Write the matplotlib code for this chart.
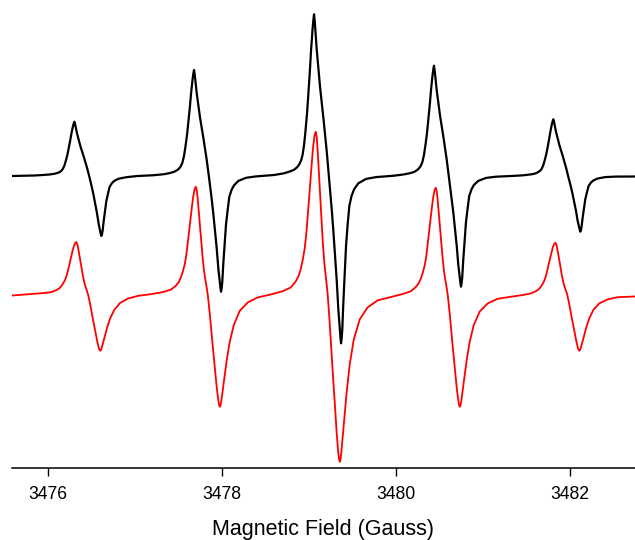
import matplotlib
matplotlib.use("Agg")
import matplotlib.pyplot as plt

plt.rcParams['font.family'] = ['Liberation Sans', 'DejaVu Sans']

# ---------------- Experimental spectrum (black) ----------------
# magnetic field (Gauss)
black_field = [
    # line 1
    3475.591, 3475.848, 3475.963, 3476.031, 3476.077, 3476.112, 3476.135, 3476.158, 3476.175, 3476.192,
    3476.209, 3476.227, 3476.242, 3476.258, 3476.273, 3476.290, 3476.300, 3476.307, 3476.316, 3476.338,
    3476.376, 3476.414, 3476.453, 3476.477, 3476.510, 3476.529, 3476.548, 3476.568, 3476.586, 3476.602,
    3476.611, 3476.617, 3476.624, 3476.631, 3476.643, 3476.660, 3476.674, 3476.692, 3476.712, 3476.738,
    3476.766, 3476.816, 3476.904, 3477.019,
    # line 2
    3477.222, 3477.337, 3477.406, 3477.452, 3477.486, 3477.509, 3477.532, 3477.549, 3477.566, 3477.583,
    3477.601, 3477.616, 3477.632, 3477.647, 3477.664, 3477.674, 3477.681, 3477.690, 3477.712, 3477.750,
    3477.788, 3477.827, 3477.851, 3477.884, 3477.903, 3477.922, 3477.942, 3477.960, 3477.976, 3477.985,
    3477.991, 3477.998, 3478.005, 3478.017, 3478.034, 3478.048, 3478.066, 3478.086, 3478.112, 3478.140,
    3478.190, 3478.278, 3478.393,
    # line 3
    3478.600, 3478.715, 3478.783, 3478.829, 3478.864, 3478.887, 3478.910, 3478.927, 3478.944, 3478.961,
    3478.979, 3478.994, 3479.010, 3479.025, 3479.042, 3479.052, 3479.059, 3479.068, 3479.090, 3479.128,
    3479.166, 3479.205, 3479.229, 3479.262, 3479.281, 3479.300, 3479.320, 3479.338, 3479.354, 3479.363,
    3479.369, 3479.376, 3479.383, 3479.395, 3479.411, 3479.426, 3479.443, 3479.464, 3479.489, 3479.518,
    3479.567, 3479.656, 3479.771,
    # line 4
    3479.977, 3480.092, 3480.161, 3480.206, 3480.241, 3480.264, 3480.287, 3480.304, 3480.321, 3480.338,
    3480.356, 3480.371, 3480.387, 3480.402, 3480.419, 3480.429, 3480.436, 3480.445, 3480.467, 3480.505,
    3480.543, 3480.582, 3480.606, 3480.639, 3480.658, 3480.677, 3480.697, 3480.715, 3480.731, 3480.740,
    3480.746, 3480.753, 3480.760, 3480.772, 3480.789, 3480.803, 3480.821, 3480.841, 3480.867, 3480.895,
    3480.945, 3481.033, 3481.148,
    # line 5
    3481.347, 3481.462, 3481.530, 3481.576, 3481.611, 3481.634, 3481.657, 3481.674, 3481.691, 3481.708,
    3481.726, 3481.741, 3481.757, 3481.772, 3481.789, 3481.799, 3481.806, 3481.815, 3481.837, 3481.875,
    3481.913, 3481.952, 3481.976, 3482.009, 3482.028, 3482.047, 3482.067, 3482.085, 3482.101, 3482.110,
    3482.116, 3482.123, 3482.130, 3482.142, 3482.159, 3482.173, 3482.191, 3482.211, 3482.237, 3482.265,
    3482.315, 3482.403, 3482.518, 3482.744,
]
# first-derivative EPR signal (arbitrary units)
black_signal = [
    # line 1
    0.0, 0.5, 1.1, 1.6, 2.2, 3.0, 3.8, 5.2, 7.1, 10.3,
    15.2, 21.2, 27.7, 34.8, 42.4, 49.4, 52.7, 54.3, 51.6, 42.4,
    29.9, 19.5, 8.1, 0.0, -12.0, -19.8, -28.8, -37.8, -48.0, -54.6,
    -58.2, -60.0, -58.2, -55.2, -45.6, -34.8, -25.2, -18.0, -10.8, -7.2,
    -4.8, -2.7, -1.2, -0.1,
    # line 2
    0.8, 1.8, 3.0, 4.2, 5.8, 7.4, 10.1, 13.8, 20.1, 29.7,
    41.3, 54.1, 67.8, 82.7, 96.5, 102.8, 106.0, 100.7, 82.7, 58.3,
    38.2, 15.9, 0.0, -23.1, -38.2, -55.5, -72.9, -92.6, -105.3, -112.2,
    -115.7, -112.2, -106.4, -87.9, -67.1, -48.6, -34.7, -20.8, -13.9, -9.3,
    -4.9, -1.8, -0.4,
    # line 3
    1.0, 2.7, 4.6, 6.2, 8.7, 11.3, 15.4, 21.0, 30.7, 45.3,
    63.1, 82.5, 103.5, 126.1, 147.1, 156.8, 161.7, 153.6, 126.1, 88.9,
    58.2, 24.3, 0.0, -33.5, -55.2, -80.3, -105.4, -133.8, -152.2, -162.3,
    -167.3, -162.3, -153.9, -127.1, -97.0, -70.3, -50.2, -30.1, -20.1, -13.4,
    -7.3, -2.9, -1.1,
    # line 4
    0.3, 1.6, 2.8, 4.0, 5.8, 7.7, 10.5, 14.3, 21.0, 30.9,
    43.0, 56.3, 70.6, 86.0, 100.4, 107.0, 110.3, 104.8, 86.0, 60.7,
    39.7, 16.5, 0.0, -22.1, -36.5, -53.1, -69.7, -88.6, -100.7, -107.4,
    -110.7, -107.4, -101.8, -84.1, -64.2, -46.5, -33.2, -19.9, -13.3, -8.9,
    -4.9, -1.9, -0.7,
    # line 5
    0.1, 0.7, 1.4, 2.0, 2.9, 4.0, 5.4, 7.4, 10.8, 15.9,
    22.1, 28.9, 36.3, 44.2, 51.6, 55.0, 56.7, 53.9, 44.2, 31.2,
    20.4, 8.5, 0.0, -11.1, -18.4, -26.7, -35.1, -44.6, -50.7, -54.0,
    -55.7, -54.0, -51.2, -42.3, -32.3, -23.4, -16.7, -10.0, -6.7, -4.5,
    -2.5, -1.1, -0.6, -0.5,
]

# ---------------- Simulated spectrum (red) ----------------
red_field = [
    # line 1
    3475.591, 3475.811, 3475.949, 3476.041, 3476.098, 3476.133, 3476.156, 3476.179, 3476.202, 3476.219,
    3476.236, 3476.253, 3476.271, 3476.286, 3476.299, 3476.314, 3476.328, 3476.340, 3476.351, 3476.362,
    3476.374, 3476.385, 3476.397, 3476.408, 3476.420, 3476.431, 3476.443, 3476.454, 3476.466, 3476.477,
    3476.489, 3476.506, 3476.523, 3476.546, 3476.569, 3476.586, 3476.595, 3476.604, 3476.613, 3476.621,
    3476.638, 3476.661, 3476.684, 3476.718, 3476.764, 3476.833, 3476.925, 3477.040,
    # line 2
    3477.184, 3477.322, 3477.414, 3477.471, 3477.506, 3477.529, 3477.552, 3477.575, 3477.592, 3477.609,
    3477.626, 3477.644, 3477.659, 3477.672, 3477.687, 3477.701, 3477.713, 3477.724, 3477.735, 3477.747,
    3477.758, 3477.770, 3477.781, 3477.793, 3477.804, 3477.816, 3477.827, 3477.839, 3477.850, 3477.862,
    3477.879, 3477.896, 3477.919, 3477.942, 3477.959, 3477.969, 3477.977, 3477.986, 3477.994, 3478.011,
    3478.034, 3478.057, 3478.091, 3478.137, 3478.206, 3478.298, 3478.413,
    # line 3
    3478.561, 3478.699, 3478.791, 3478.848, 3478.883, 3478.906, 3478.929, 3478.952, 3478.969, 3478.986,
    3479.003, 3479.021, 3479.036, 3479.049, 3479.064, 3479.078, 3479.090, 3479.101, 3479.112, 3479.124,
    3479.135, 3479.147, 3479.158, 3479.170, 3479.181, 3479.193, 3479.204, 3479.216, 3479.227, 3479.239,
    3479.256, 3479.273, 3479.296, 3479.319, 3479.336, 3479.346, 3479.354, 3479.363, 3479.371, 3479.388,
    3479.411, 3479.434, 3479.468, 3479.514, 3479.583, 3479.675, 3479.790,
    # line 4
    3479.939, 3480.077, 3480.169, 3480.226, 3480.261, 3480.284, 3480.307, 3480.330, 3480.347, 3480.364,
    3480.381, 3480.399, 3480.414, 3480.427, 3480.442, 3480.456, 3480.468, 3480.479, 3480.490, 3480.502,
    3480.513, 3480.525, 3480.536, 3480.548, 3480.559, 3480.571, 3480.582, 3480.594, 3480.605, 3480.617,
    3480.634, 3480.651, 3480.674, 3480.697, 3480.714, 3480.724, 3480.732, 3480.741, 3480.749, 3480.766,
    3480.789, 3480.812, 3480.846, 3480.892, 3480.961, 3481.053, 3481.168,
    # line 5
    3481.312, 3481.450, 3481.542, 3481.599, 3481.634, 3481.657, 3481.680, 3481.703, 3481.720, 3481.737,
    3481.754, 3481.772, 3481.787, 3481.800, 3481.815, 3481.829, 3481.841, 3481.852, 3481.863, 3481.875,
    3481.886, 3481.898, 3481.909, 3481.921, 3481.932, 3481.944, 3481.955, 3481.967, 3481.978, 3481.990,
    3482.007, 3482.024, 3482.047, 3482.070, 3482.087, 3482.096, 3482.105, 3482.114, 3482.122, 3482.139,
    3482.162, 3482.185, 3482.219, 3482.265, 3482.334, 3482.426, 3482.541, 3482.744,
]
red_signal = [
    # line 1
    -0.5, 1.0, 1.9, 2.9, 4.8, 6.6, 8.7, 11.7, 15.4, 19.6,
    25.4, 31.8, 38.2, 44.0, 48.2, 51.7, 53.0, 51.1, 46.6, 41.3,
    35.0, 29.2, 23.3, 17.8, 13.0, 9.3, 6.4, 3.4, 0.0, -4.5,
    -9.5, -17.8, -25.6, -35.6, -46.2, -52.4, -54.9, -55.7, -54.9, -52.9,
    -47.3, -40.1, -32.3, -23.4, -15.0, -7.8, -3.5, -0.8,
    # line 2
    0.8, 2.9, 5.3, 9.1, 13.0, 17.4, 23.4, 31.0, 40.1, 52.0,
    65.0, 78.0, 89.9, 98.6, 105.6, 108.3, 104.5, 95.3, 84.5, 71.5,
    59.6, 47.7, 36.3, 26.5, 19.0, 13.0, 7.0, 0.0, -8.9, -19.0,
    -35.7, -51.4, -71.5, -92.7, -105.0, -110.0, -111.7, -110.0, -106.1, -94.9,
    -80.4, -64.8, -46.9, -30.2, -15.8, -7.4, -2.4,
    # line 3
    0.5, 3.8, 7.5, 13.5, 19.3, 25.9, 35.0, 46.6, 60.4, 78.4,
    98.0, 117.6, 135.5, 148.6, 159.2, 163.3, 157.6, 143.7, 127.4, 107.8,
    89.8, 71.9, 54.7, 40.0, 28.6, 19.6, 10.6, 0.0, -13.3, -28.3,
    -53.3, -76.7, -106.7, -138.4, -156.7, -164.2, -166.7, -164.2, -158.4, -141.7,
    -120.0, -96.7, -70.0, -45.0, -24.4, -12.3, -5.3,
    # line 4
    -2.1, 1.0, 3.7, 7.9, 11.8, 16.2, 22.2, 29.8, 38.5, 51.5,
    64.4, 77.3, 89.1, 97.6, 104.6, 107.3, 103.5, 94.4, 83.7, 70.8,
    59.0, 47.2, 35.9, 26.3, 18.8, 12.9, 7.0, 0.0, -8.9, -19.0,
    -35.7, -51.4, -71.5, -92.7, -105.0, -110.0, -111.7, -110.0, -106.1, -94.9,
    -80.4, -64.8, -46.9, -30.2, -16.5, -8.4, -3.8,
    # line 5
    -1.8, -0.1, 1.4, 3.5, 5.4, 7.6, 10.6, 14.4, 18.7, 24.5,
    31.4, 37.7, 43.4, 47.6, 51.0, 52.3, 50.5, 46.0, 40.8, 34.5,
    28.8, 23.0, 17.5, 12.8, 9.2, 6.3, 3.4, 0.0, -4.5, -9.5,
    -17.8, -25.6, -35.6, -46.2, -52.4, -54.9, -55.7, -54.9, -52.9, -47.3,
    -40.1, -32.3, -23.4, -15.0, -8.4, -4.5, -2.2, -1.5,
]

x_ticks = [3476, 3478, 3480, 3482]
x_label = "Magnetic Field (Gauss)"

# vertical offsets used to stack the two traces
black_offset = -176
red_offset = -295

fig = plt.figure(figsize=(6.35, 5.40), dpi=100)
ax = fig.add_axes([12 / 635, (540 - 467.6) / 540, 1 - 12 / 635, 467.6 / 540])

ax.plot(black_field, [v + black_offset for v in black_signal], color="black", lw=1.6,
        solid_joinstyle="round")
ax.plot(red_field, [v + red_offset for v in red_signal], color="#ff0000", lw=1.3,
        solid_joinstyle="round")

ax.set_xlim(3475.591, 3482.744)
ax.set_ylim(-467.6, 0)

for s in ["top", "right", "left"]:
    ax.spines[s].set_visible(False)
ax.spines["bottom"].set_linewidth(1.1)
ax.set_yticks([])
ax.set_xticks(x_ticks)
ax.set_xticklabels([str(t) for t in x_ticks])
ax.tick_params(axis="x", length=5.5, width=1.0, pad=8, labelsize=12.7, direction="out")
ax.set_xlabel(x_label, fontsize=15.5, labelpad=11)

fig.savefig("out.png", dpi=100)
